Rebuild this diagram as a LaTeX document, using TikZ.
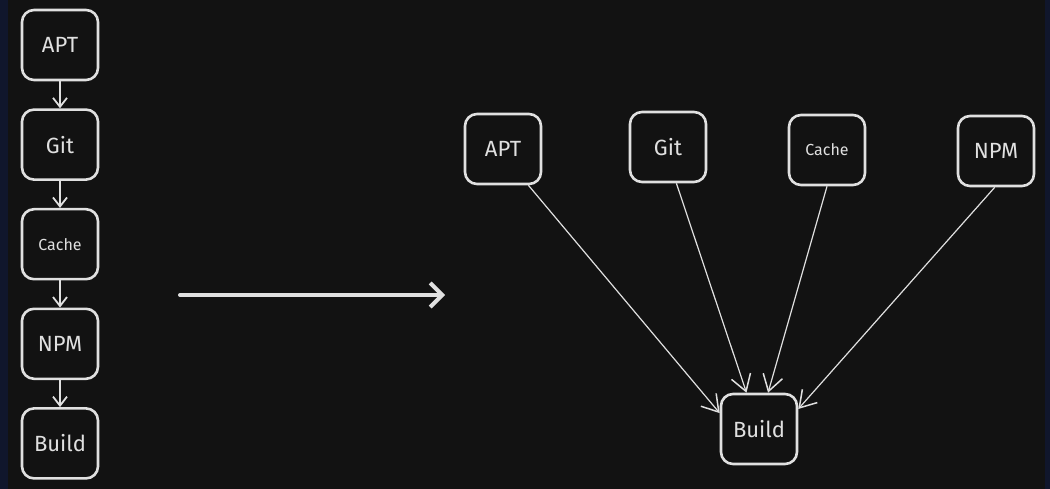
\documentclass[tikz,border=0pt]{standalone}
\usepackage{fontspec}
\setmainfont{Fira Sans}
\usetikzlibrary{arrows.meta,positioning}
\definecolor{canvas}{RGB}{18,18,18}
\definecolor{sketch}{RGB}{224,224,224}
\definecolor{edgeblue}{RGB}{16,22,44}

\begin{document}
\begin{tikzpicture}[
        x=1pt, y=-1pt,
        node distance=27pt,
        % Excalidraw-like boxes on a dark canvas
        box/.style={rectangle, rounded corners=12pt, draw=sketch, line width=2.6pt,
            fill=canvas, text=sketch,
            minimum width=76pt,
            minimum height=70pt,
            align=center, font=\fontsize{22}{26}\selectfont},
        small/.style={font=\fontsize{16}{19}\selectfont},
        step link/.style={draw=sketch, line width=1.8pt, -{Straight Barb[length=9pt,width=14pt,line width=1.8pt]}},
        feed/.style={draw=sketch, line width=1.2pt, -{Straight Barb[length=16pt,width=20pt,line width=1.5pt]}},
        shift arrow/.style={draw=sketch, line width=4pt, line cap=round, -{Straight Barb[length=12pt,width=24pt,line width=4pt]}}
    ]
        % Canvas
        \fill[canvas] (0,0) rectangle (1050,489);
        \fill[edgeblue] (0,0) rectangle (8,489);
        \fill[edgeblue] (1045,0) rectangle (1050,489);

        % Sequential pipeline
        \node[box] (apt1) at (60,45) {APT};
        \node[box, below=of apt1] (git1) {Git};
        \node[box, small, below=of git1] (cache1) {Cache};
        \node[box, below=of cache1] (npm1) {NPM};
        \node[box, below=of npm1] (build1) {Build};

        \draw[step link] (apt1) -- (git1);
        \draw[step link] (git1) -- (cache1);
        \draw[step link] (cache1) -- (npm1);
        \draw[step link] (npm1) -- (build1);

        % Transition
        \coordinate (from) at (180,295);
        \coordinate (to) at (445,295);
        \draw[shift arrow] (from) -- (to);

        % Parallel pipeline
        \node[box] (apt2) at (503,149) {APT};
        \node[box] (git2) at (668,147) {Git};
        \node[box, small] (cache2) at (827,150) {Cache};
        \node[box] (npm2) at (996,151) {NPM};
        \node[box] (build2) at (759,429) {Build};

        % Connections
        \draw[feed] (apt2.-55) -- (build2.158);
        \draw[feed] (git2.-77) -- (build2.109);
        \draw[feed] (cache2.-90) -- (build2.76);
        \draw[feed] (npm2.-92) -- (build2.27);
    \end{tikzpicture}
\end{document}
